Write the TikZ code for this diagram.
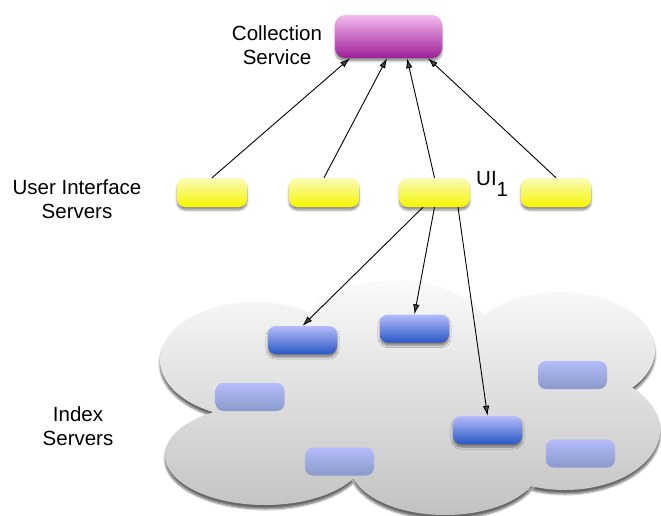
\documentclass[tikz,border=0pt]{standalone}
\usepackage{fontspec}
\setmainfont{Liberation Sans}
\usetikzlibrary{arrows.meta,shadows.blur,calc}

\definecolor{csTop}{HTML}{F4BAEE}
\definecolor{csBot}{HTML}{9E1E98}
\definecolor{uiTop}{HTML}{FAFAB8}
\definecolor{uiBot}{HTML}{F6F600}
\definecolor{ixTop}{HTML}{B4BCFA}
\definecolor{ixBot}{HTML}{2A58C6}
\definecolor{ixFade}{HTML}{8A9ACA}
\definecolor{cloudTop}{HTML}{FAFAFA}
\definecolor{cloudBot}{HTML}{C2C2C2}

\tikzset{
  lbl/.style={font=\fontsize{20.5}{24}\selectfont, align=center, inner sep=0pt},
  boxshadow/.style={blur shadow={shadow xshift=0pt, shadow yshift=-3pt,
      shadow blur steps=6, shadow blur extra rounding=1pt, shadow opacity=45}},
  collbox/.style={minimum width=107pt, minimum height=43pt, rounded corners=10pt,
      top color=csTop, bottom color=csBot, boxshadow},
  uibox/.style={minimum width=70pt, minimum height=29pt, rounded corners=8pt,
      top color=uiTop, bottom color=uiBot, boxshadow},
  ixbox/.style={minimum width=69pt, minimum height=28pt, rounded corners=8pt,
      top color=ixTop, bottom color=ixBot, boxshadow},
  ixfaded/.style={minimum width=69pt, minimum height=28pt, rounded corners=8pt,
      top color=ixTop, bottom color=ixFade},
  link/.style={line width=0.9pt, -{Latex[length=10pt,width=6.5pt]}},
}

\begin{document}
\begin{tikzpicture}[x=1pt, y=-1pt]
\useasboundingbox (0,0) rectangle (661,516);

% cloud of index servers: union of overlapping lobes
\path[top color=cloudTop, bottom color=cloudBot,
      blur shadow={shadow xshift=0pt, shadow yshift=-4pt, shadow blur steps=6, shadow opacity=60}]
  (255,360) ellipse [x radius=95pt, y radius=58pt]
  (395,345) ellipse [x radius=100pt, y radius=65pt]
  (560,350) ellipse [x radius=95pt, y radius=58pt]
  (565,430) ellipse [x radius=95pt, y radius=60pt]
  (445,465) ellipse [x radius=95pt, y radius=50pt]
  (265,455) ellipse [x radius=100pt, y radius=50pt]
  (420,410) ellipse [x radius=160pt, y radius=70pt];

% collection service
\node[collbox] (cs) at (388.5,36.5) {};
\node[lbl, anchor=base] (cslbl) at (277,65) {Collection\\Service};

% user interface servers
\node[uibox] (u1) at (212,192.5) {};
\node[uibox] (u2) at (324,192.5) {};
\node[uibox] (u3) at (434.5,192.5) {};
\node[uibox] (u4) at (556,192.5) {};
\node[lbl, anchor=base] (uilbl) at (77,218) {User Interface\\Servers};
\node[lbl, anchor=base west] (u3lbl) at (476,185) {UI\raisebox{-11pt}{1}};

% index servers
\node[ixfaded] (id) at (250,397) {};
\node[ixfaded] (ie) at (572.5,375) {};
\node[ixfaded] (if) at (339.5,461.5) {};
\node[ixfaded] (ig) at (580.5,453.5) {};
\node[ixbox] (ia) at (302.5,340) {};
\node[ixbox] (ib) at (414.5,328.5) {};
\node[ixbox] (ic) at (487.5,430) {};
\node[lbl, anchor=base] (ixlbl) at (78,445) {Index\\Servers};

% connections
\draw[link] (u1.north) -- ([xshift=-38.5pt]cs.south);
\draw[link] (u2.north) -- ([xshift=-1.5pt]cs.south);
\draw[link] (u3.north) -- ([xshift=18.5pt]cs.south);
\draw[link] (u4.north) -- ([xshift=39.5pt]cs.south);
\draw[link] ([xshift=-11.5pt]u3.south) -- (ia.north);
\draw[link] (u3.south) -- (ib.north);
\draw[link] ([xshift=23.5pt]u3.south) -- (ic.north);
\end{tikzpicture}
\end{document}
